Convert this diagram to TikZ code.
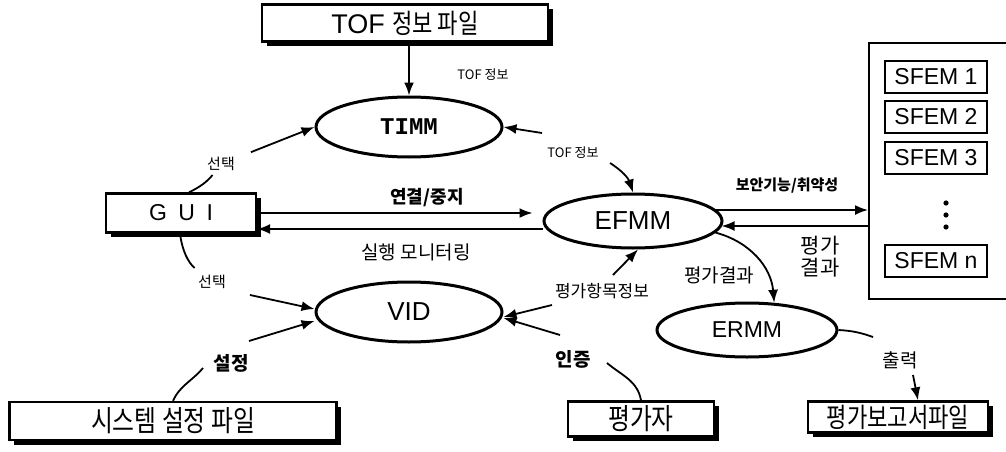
\documentclass[tikz,border=0pt]{standalone}
\usepackage{fontspec}
\setmainfont{Liberation Sans}
\newfontfamily\kr{Noto Sans CJK KR}
\newfontfamily\krbox[FakeStretch=0.82]{Noto Sans CJK KR}
\newfontfamily\courb{Liberation Mono}
\usetikzlibrary{shapes.geometric,shadows,arrows.meta}

\begin{document}
\begin{tikzpicture}[x=1pt, y=-1pt, >={Latex[length=13pt,width=10pt]},
  file/.style={draw, line width=2.4pt, fill=white, inner sep=0pt,
    drop shadow={shadow xshift=4.5pt, shadow yshift=-4.5pt, fill=black, opacity=1}},
  proc/.style={ellipse, draw, line width=3pt, inner sep=0pt},
  sfem/.style={draw, line width=1.5pt, minimum width=102pt, minimum height=32pt,
    inner sep=0pt, font=\fontsize{23}{26}\selectfont},
  lbl/.style={inner sep=1pt, font=\kr\fontsize{15}{17}\selectfont},
  flow/.style={->, line width=1.8pt},
  link/.style={line width=1.8pt}]
\useasboundingbox (0,0) rectangle (1006,452);
% Files
\node[file, minimum width=286pt, minimum height=37pt, font=\fontsize{27}{30}\selectfont] (tof) at (405,23) {TOF {\krbox 정보 파일}};
\node[file, minimum width=150pt, minimum height=39pt, font=\fontsize{23}{26}\selectfont] (gui) at (181,213) {G\hspace{0.5em}U\hspace{0.5em}I};
\node[file, minimum width=327pt, minimum height=38pt, font=\krbox\fontsize{29}{32}\selectfont] (sys) at (173,421) {시스템 설정 파일};
\node[file, minimum width=146pt, minimum height=35pt, font=\krbox\fontsize{29}{32}\selectfont] (evr) at (641,419) {평가자};
\node[file, minimum width=180pt, minimum height=31pt, font=\krbox\fontsize{27}{30}\selectfont] (rpt) at (898,417) {평가보고서파일};
% Modules
\node[proc, minimum width=186pt, minimum height=60pt, font=\courb\bfseries\fontsize{24}{28}\selectfont] (timm) at (409,127) {TIMM};
\node[proc, minimum width=178pt, minimum height=54pt, font=\fontsize{26}{30}\selectfont] (efmm) at (633,221) {EFMM};
\node[proc, minimum width=186pt, minimum height=60pt, font=\fontsize{26}{30}\selectfont] (vid) at (409,312) {VID};
\node[proc, minimum width=180pt, minimum height=54pt, font=\fontsize{23}{26}\selectfont] (ermm) at (747,330) {ERMM};
% SFEM pool
\node[draw, line width=1.6pt, minimum width=160pt, minimum height=256pt, anchor=north west] (pool) at (868,42) {};
\foreach \i/\y in {1/77, 2/117, 3/158, n/261}
  \node[sfem] (sfem\i) at (936,\y) {SFEM \i};
\foreach \y in {203, 215, 227}
  \fill (946,\y) circle (2.6pt);
% Labels
\node[lbl, font=\kr\fontsize{13}{15}\selectfont] (tofinfo1) at (483,75) {TOF 정보};
\node[lbl, font=\kr\fontsize{13}{15}\selectfont] (tofinfo2) at (573,153) {TOF 정보};
\node[lbl] (sel1) at (221,164) {선택};
\node[lbl] (sel2) at (212,282) {선택};
\node[lbl, font=\kr\bfseries\fontsize{18}{20}\selectfont] (conn) at (427,198) {연결/중지};
\node[lbl, font=\kr\fontsize{19}{21}\selectfont] (mon) at (416,252) {실행 모니터링};
\node[lbl, font=\kr\bfseries\fontsize{15}{17}\selectfont] (secv) at (787,186) {보안기능/취약성};
\node[lbl, font=\kr\fontsize{21}{22}\selectfont, align=center] (res1) at (820,257) {평가\\결과};
\node[lbl, font=\kr\fontsize{19}{21}\selectfont] (res2) at (719,275) {평가결과};
\node[lbl, font=\kr\fontsize{17}{19}\selectfont] (item) at (602,291) {평가항목정보};
\node[lbl, font=\kr\bfseries\fontsize{19}{21}\selectfont] (auth) at (573,359) {인증};
\node[lbl, font=\kr\bfseries\fontsize{19}{21}\selectfont] (set) at (231,363) {설정};
\node[lbl, font=\kr\fontsize{19}{21}\selectfont] (out) at (900,360) {출력};
% Connectors
\draw[flow] (tof.south -| timm.north) -- (timm.north);
\draw[link, shorten >=4pt] ([xshift=8pt]gui.north) to[bend right=12] (sel1);
\draw[flow, shorten <=16pt] (sel1) -- (timm.west);
\draw[flow] ([shift={(-31,-20)}]tofinfo2.center) -- (timm.east);
\draw[flow] ([shift={(37,10)}]tofinfo2.center) to[bend left=20] (efmm.north);
\draw[flow] (gui.east) -- ([shift={(-10,-8)}]efmm.west);
\draw[flow] ([shift={(0,8)}]efmm.west) -- ([shift={(0,16)}]gui.east);
\coordinate (e1) at ([shift={(-8,-11)}]efmm.east);
\coordinate (e2) at ([shift={(-2,5)}]efmm.east);
\draw[flow] (e1) -- (e1 -| pool.west);
\draw[flow] (e2 -| pool.west) -- (e2);
\draw[flow] (efmm.-8) to[out=-15, in=95] (ermm.45);
\draw[flow] ([shift={(11,-16)}]item.center) -- (efmm.-80);
\draw[flow] ([shift={(-50,14)}]item.center) -- ([shift={(0,5)}]vid.east);
\draw[link] (evr.north) to[out=100, in=-40] ([shift={(34,4)}]auth.center);
\draw[flow] ([shift={(-13,-24)}]auth.center) -- ([shift={(0,6)}]vid.east);
\draw[link, shorten >=9pt] ([xshift=-1pt]gui.south) to[bend right=20] (sel2);
\draw[flow] ([shift={(38,13)}]sel2.center) -- ([shift={(0,-3)}]vid.west);
\draw[flow] ([shift={(18,-22)}]set.center) -- ([shift={(0,9)}]vid.west);
\draw[link] (sys.north) to[out=65, in=-130] ([shift={(-28,5)}]set.center);
\draw[link] (ermm.east) to[bend left=8] ([shift={(-27,-23)}]out.center);
\draw[flow] ([shift={(13,15)}]out.center) -- ([xshift=20pt]rpt.north);
\end{tikzpicture}
\end{document}
